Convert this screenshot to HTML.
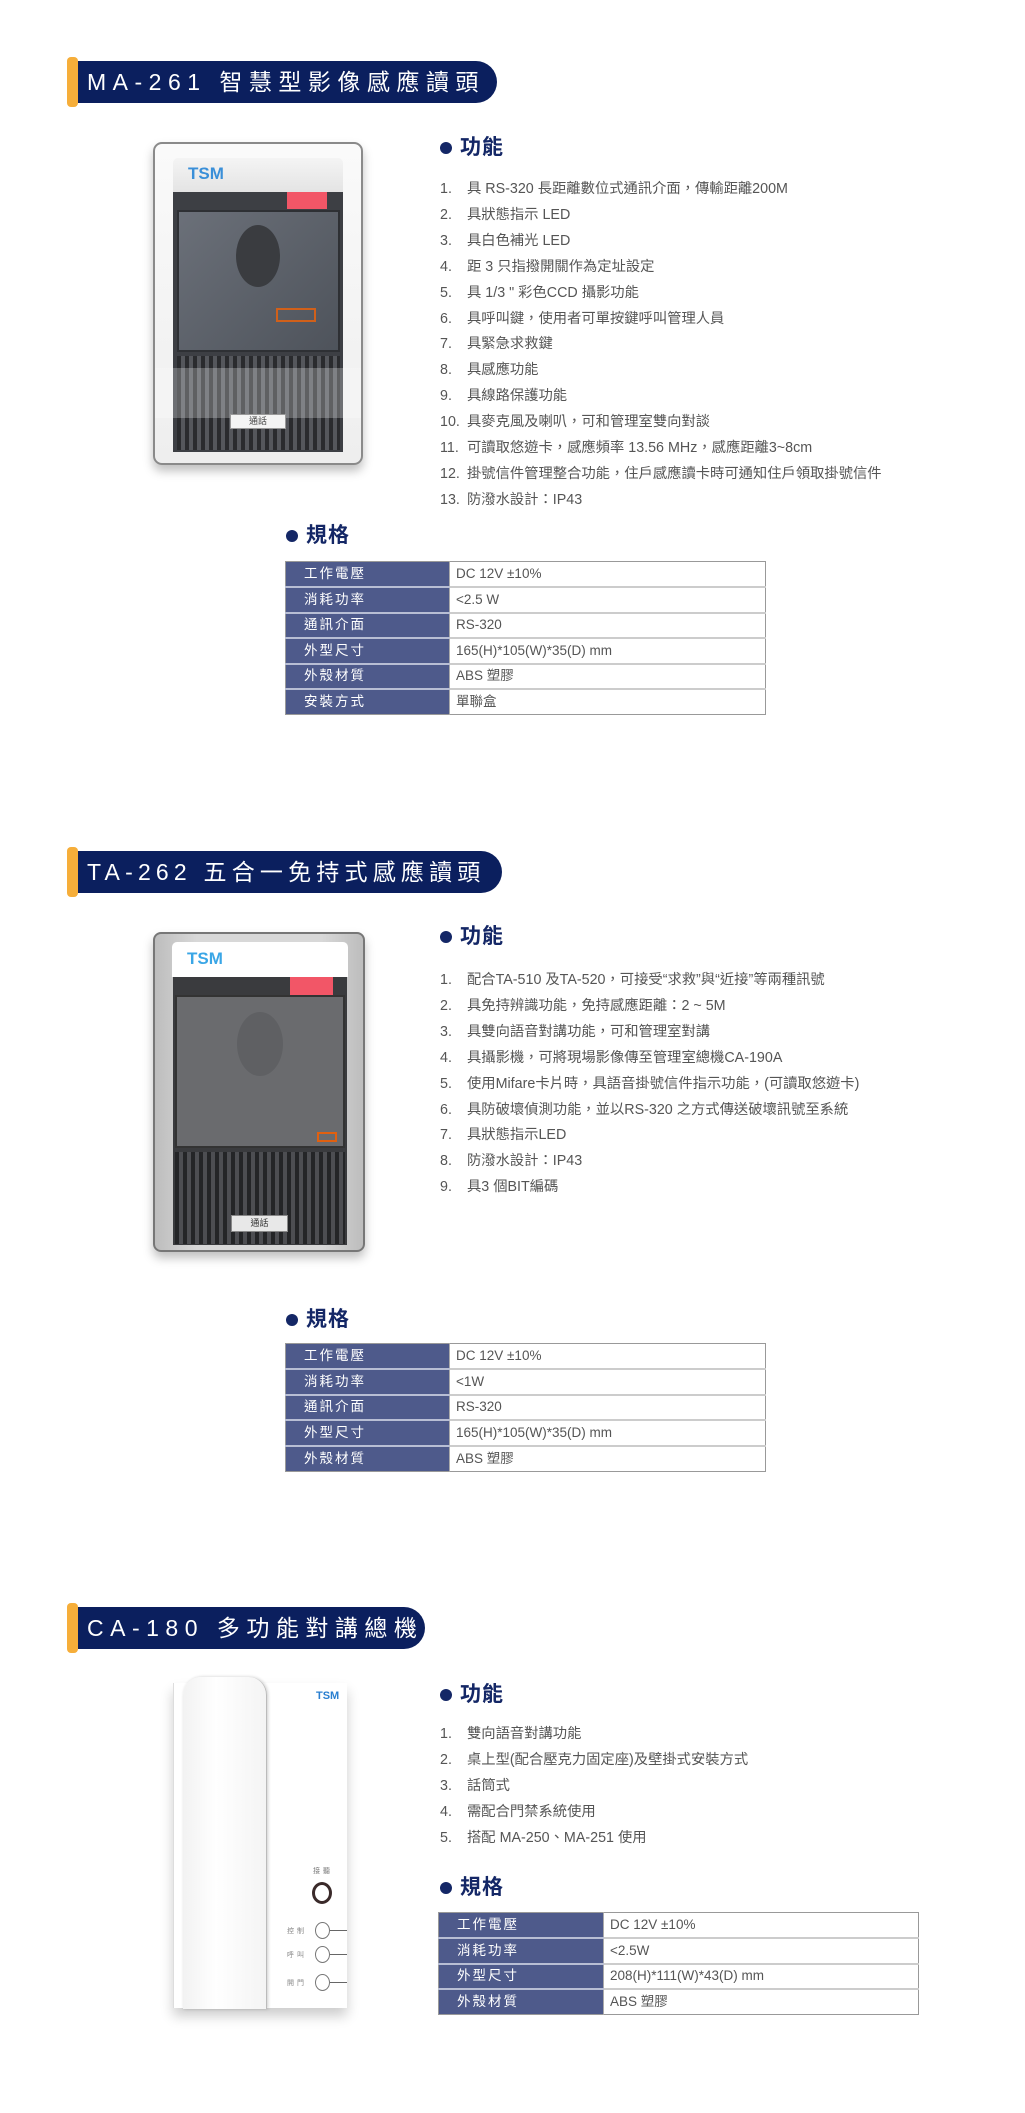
<!DOCTYPE html>
<html><head><meta charset="utf-8">
<style>
*{margin:0;padding:0;box-sizing:border-box}
body{width:1025px;height:2113px;background:#fff;position:relative;overflow:hidden;font-family:"Liberation Sans","Noto Sans CJK TC",sans-serif}
.a{position:absolute}
.bar{position:absolute;left:70px;height:42px;background:#0b1f5e;border-radius:0 22px 22px 0;color:#fff;font-size:23px;letter-spacing:6.5px;line-height:42px;padding-left:17px;white-space:nowrap}
.bar:before{content:"";position:absolute;left:-3px;top:-4px;width:11px;height:50px;background:#f6ae3a;border-radius:4px}
.h{position:absolute;font-size:21px;font-weight:bold;color:#142766;line-height:24px;padding-left:20px;letter-spacing:1px}
.h:before{content:"";position:absolute;left:0;top:6px;width:12px;height:12px;border-radius:50%;background:#142766}
.list{position:absolute;font-size:14.3px;color:#555;line-height:25.9px;white-space:nowrap}
.list div span{display:inline-block;width:27px}
table{position:absolute;border-collapse:collapse;font-size:13.5px;border:1px solid #999}
td{height:25.5px;border-top:2px solid #ccc;padding:0;vertical-align:middle;line-height:16px}
td.k{background:#4e5a8b;color:#fff;padding-left:18px;letter-spacing:2px;border-top:2px solid #b8bed4}
td.v{color:#555;padding-left:6px;border-left:1px solid #aaa}
tr:first-child td{border-top:none}
</style></head><body>

<!-- ===== Section 1 ===== -->
<div class="bar" style="top:61px;width:427px">MA-261 智慧型影像感應讀頭</div>

<div class="a" style="left:153px;top:142px;width:210px;height:323px;border:2px solid #8a8a8a;border-radius:9px;background:linear-gradient(#fafafa,#eee);box-shadow:0 6px 10px rgba(0,0,0,.25)"></div>
<div class="a" style="left:173px;top:158px;width:170px;height:34px;background:linear-gradient(#f4f4f4,#e4e4e4);border-radius:5px 5px 0 0"></div>
<div class="a" style="left:188px;top:164px;font-size:17px;font-weight:bold;color:#3a8fd8">TSM</div>
<div class="a" style="left:173px;top:192px;width:170px;height:260px;background:#3d3f44"></div>
<div class="a" style="left:287px;top:192px;width:40px;height:17px;background:#f25667"></div>
<div class="a" style="left:177px;top:210px;width:163px;height:142px;background:linear-gradient(135deg,#6b7079,#4e535b);border:2px solid #2e3034"></div>
<div class="a" style="left:236px;top:225px;width:44px;height:62px;border-radius:50%;background:#3a3c40"></div>
<div class="a" style="left:276px;top:308px;width:40px;height:14px;border:2px solid #d0601a"></div>
<div class="a" style="left:177px;top:356px;width:163px;height:94px;background:repeating-linear-gradient(90deg,#2a2b2e 0 4px,#55575c 4px 8px)"></div>
<div class="a" style="left:155px;top:368px;width:206px;height:50px;background:rgba(255,255,255,.25)"></div>
<div class="a" style="left:230px;top:414px;width:56px;height:15px;background:#f4f4f4;border:1px solid #999;font-size:9px;text-align:center;line-height:13px;color:#444">通話</div>

<div class="h" style="left:440px;top:136px">功能</div>
<div class="list" style="left:440px;top:177px">
<div><span>1.</span>具 RS-320 長距離數位式通訊介面，傳輸距離200M</div>
<div><span>2.</span>具狀態指示 LED</div>
<div><span>3.</span>具白色補光 LED</div>
<div><span>4.</span>距 3 只指撥開關作為定址設定</div>
<div><span>5.</span>具 1/3 " 彩色CCD 攝影功能</div>
<div><span>6.</span>具呼叫鍵，使用者可單按鍵呼叫管理人員</div>
<div><span>7.</span>具緊急求救鍵</div>
<div><span>8.</span>具感應功能</div>
<div><span>9.</span>具線路保護功能</div>
<div><span>10.</span>具麥克風及喇叭，可和管理室雙向對談</div>
<div><span>11.</span>可讀取悠遊卡，感應頻率 13.56 MHz，感應距離3~8cm</div>
<div><span>12.</span>掛號信件管理整合功能，住戶感應讀卡時可通知住戶領取掛號信件</div>
<div><span>13.</span>防潑水設計：IP43</div>
</div>

<div class="h" style="left:286px;top:524px">規格</div>
<table style="left:285px;top:561px;width:481px">
<tr><td class="k" style="width:164px">工作電壓</td><td class="v">DC 12V ±10%</td></tr>
<tr><td class="k">消耗功率</td><td class="v">&lt;2.5 W</td></tr>
<tr><td class="k">通訊介面</td><td class="v">RS-320</td></tr>
<tr><td class="k">外型尺寸</td><td class="v">165(H)*105(W)*35(D) mm</td></tr>
<tr><td class="k">外殼材質</td><td class="v">ABS 塑膠</td></tr>
<tr><td class="k">安裝方式</td><td class="v">單聯盒</td></tr>
</table>

<!-- ===== Section 2 ===== -->
<div class="bar" style="top:851px;width:432px;letter-spacing:5.2px">TA-262 五合一免持式感應讀頭</div>

<div class="a" style="left:153px;top:932px;width:212px;height:320px;border:2px solid #777;border-radius:8px;background:linear-gradient(90deg,#bdbdbd,#d8d8d8 20%,#d8d8d8 80%,#bdbdbd);box-shadow:0 6px 10px rgba(0,0,0,.25)"></div>
<div class="a" style="left:172px;top:942px;width:176px;height:35px;background:#fff;border-radius:5px 5px 0 0"></div>
<div class="a" style="left:187px;top:949px;font-size:17px;font-weight:bold;color:#3aa6e6">TSM</div>
<div class="a" style="left:173px;top:977px;width:174px;height:268px;background:#3a3b3e"></div>
<div class="a" style="left:290px;top:977px;width:43px;height:18px;background:#f25667"></div>
<div class="a" style="left:175px;top:995px;width:170px;height:153px;background:#6a6b6e;border:2px solid #333"></div>
<div class="a" style="left:237px;top:1012px;width:46px;height:64px;border-radius:50%;background:#5f6063"></div>
<div class="a" style="left:317px;top:1132px;width:20px;height:10px;border:2px solid #e06010"></div>
<div class="a" style="left:175px;top:1152px;width:170px;height:92px;background:repeating-linear-gradient(90deg,#242527 0 4px,#4d4e52 4px 8px)"></div>
<div class="a" style="left:231px;top:1215px;width:57px;height:17px;background:#e8e8e8;border:1px solid #888;font-size:9px;text-align:center;line-height:15px;color:#333">通話</div>

<div class="h" style="left:440px;top:925px">功能</div>
<div class="list" style="left:440px;top:968px">
<div><span>1.</span>配合TA-510 及TA-520，可接受“求救”與“近接”等兩種訊號</div>
<div><span>2.</span>具免持辨識功能，免持感應距離：2 ~ 5M</div>
<div><span>3.</span>具雙向語音對講功能，可和管理室對講</div>
<div><span>4.</span>具攝影機，可將現場影像傳至管理室總機CA-190A</div>
<div><span>5.</span>使用Mifare卡片時，具語音掛號信件指示功能，(可讀取悠遊卡)</div>
<div><span>6.</span>具防破壞偵測功能，並以RS-320 之方式傳送破壞訊號至系統</div>
<div><span>7.</span>具狀態指示LED</div>
<div><span>8.</span>防潑水設計：IP43</div>
<div><span>9.</span>具3 個BIT編碼</div>
</div>

<div class="h" style="left:286px;top:1308px">規格</div>
<table style="left:285px;top:1343px;width:481px">
<tr><td class="k" style="width:164px">工作電壓</td><td class="v">DC 12V ±10%</td></tr>
<tr><td class="k">消耗功率</td><td class="v">&lt;1W</td></tr>
<tr><td class="k">通訊介面</td><td class="v">RS-320</td></tr>
<tr><td class="k">外型尺寸</td><td class="v">165(H)*105(W)*35(D) mm</td></tr>
<tr><td class="k">外殼材質</td><td class="v">ABS 塑膠</td></tr>
</table>

<!-- ===== Section 3 ===== -->
<div class="bar" style="top:1607px;width:355px">CA-180 多功能對講總機</div>

<div class="a" style="left:173px;top:1683px;width:174px;height:325px;background:#fff;box-shadow:0 8px 12px rgba(0,0,0,.2);border-left:1px solid #ddd"></div>
<div class="a" style="left:183px;top:1677px;width:84px;height:332px;background:linear-gradient(90deg,#f2f2f2,#fff 40%,#f4f4f4);border-radius:18px 18px 0 0;border-right:1px solid #bbb;box-shadow:1px 0 3px rgba(0,0,0,.2)"></div>
<div class="a" style="left:316px;top:1690px;font-size:11px;font-weight:bold;color:#2a7fd0">TSM</div>
<div class="a" style="left:313px;top:1866px;font-size:7px;color:#777;letter-spacing:3px">接聽</div>
<div class="a" style="left:312px;top:1882px;width:20px;height:22px;border:3px solid #3a2a2a;border-radius:50%"></div>
<div class="a" style="left:287px;top:1926px;font-size:7px;color:#888;letter-spacing:3px">控制</div>
<div class="a" style="left:315px;top:1922px;width:15px;height:17px;border:1px solid #777;border-radius:50%"></div>
<div class="a" style="left:330px;top:1930px;width:17px;height:1px;background:#666"></div>
<div class="a" style="left:287px;top:1950px;font-size:7px;color:#888;letter-spacing:3px">呼叫</div>
<div class="a" style="left:315px;top:1946px;width:15px;height:17px;border:1px solid #777;border-radius:50%"></div>
<div class="a" style="left:330px;top:1954px;width:17px;height:1px;background:#666"></div>
<div class="a" style="left:287px;top:1978px;font-size:7px;color:#888;letter-spacing:3px">開門</div>
<div class="a" style="left:315px;top:1974px;width:15px;height:17px;border:1px solid #777;border-radius:50%"></div>
<div class="a" style="left:330px;top:1982px;width:17px;height:1px;background:#666"></div>

<div class="h" style="left:440px;top:1683px">功能</div>
<div class="list" style="left:440px;top:1722px">
<div><span>1.</span>雙向語音對講功能</div>
<div><span>2.</span>桌上型(配合壓克力固定座)及壁掛式安裝方式</div>
<div><span>3.</span>話筒式</div>
<div><span>4.</span>需配合門禁系統使用</div>
<div><span>5.</span>搭配 MA-250、MA-251 使用</div>
</div>

<div class="h" style="left:440px;top:1876px">規格</div>
<table style="left:438px;top:1912px;width:481px">
<tr><td class="k" style="width:165px">工作電壓</td><td class="v">DC 12V ±10%</td></tr>
<tr><td class="k">消耗功率</td><td class="v">&lt;2.5W</td></tr>
<tr><td class="k">外型尺寸</td><td class="v">208(H)*111(W)*43(D) mm</td></tr>
<tr><td class="k">外殼材質</td><td class="v">ABS 塑膠</td></tr>
</table>

</body></html>
